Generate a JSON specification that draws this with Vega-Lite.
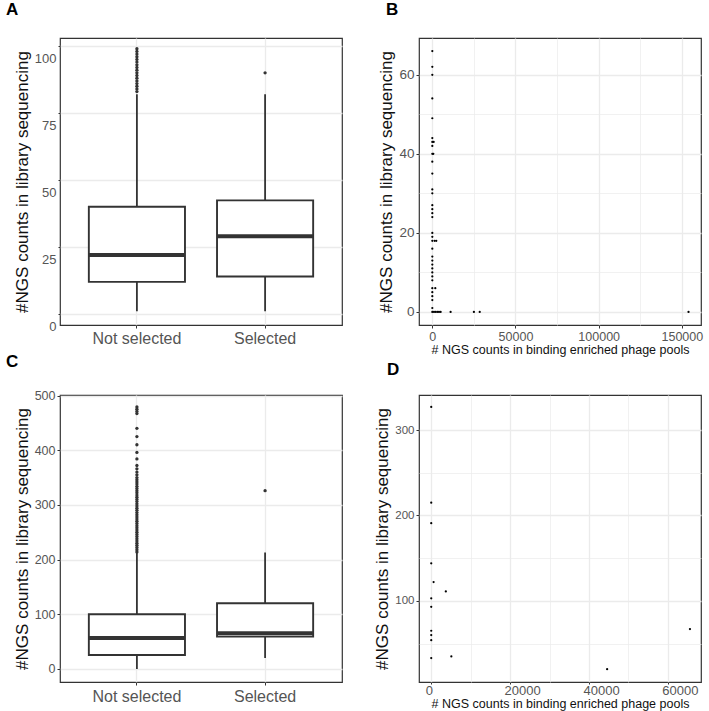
{
  "$schema": "https://vega.github.io/schema/vega-lite/v6.json",
  "padding": {"left": 5, "top": 0, "right": 5, "bottom": 0},
  "background": "white",
  "config": {
    "font": "Liberation Sans",
    "view": {"stroke": "#333333", "strokeWidth": 1.2},
    "axis": {"labelFont": "Liberation Sans", "titleFont": "Liberation Sans", "labelColor": "#555555", "titleColor": "#111111", "titleFontWeight": "normal", "domain": false, "gridColor": "#ebebeb", "tickColor": "#333333", "tickWidth": 1, "labelPadding": 2, "titlePadding": 3, "labelOverlap": false, "labelFlush": false},
    "title": {"font": "Liberation Sans", "fontSize": 17, "fontWeight": "bold", "color": "black", "anchor": "start", "frame": "group"}
  },
  "datasets": {
    "boxA": [
      {"group": "Not selected", "lower": 1, "q1": 12, "median": 22, "q3": 40, "upper": 82},
      {"group": "Selected", "lower": 1, "q1": 14, "median": 29, "q3": 42.4, "upper": 82}
    ],
    "outA": [
      {"group": "Not selected", "value": 83}, {"group": "Not selected", "value": 84}, {"group": "Not selected", "value": 85},
      {"group": "Not selected", "value": 86}, {"group": "Not selected", "value": 87}, {"group": "Not selected", "value": 88},
      {"group": "Not selected", "value": 89}, {"group": "Not selected", "value": 90}, {"group": "Not selected", "value": 91},
      {"group": "Not selected", "value": 92}, {"group": "Not selected", "value": 93}, {"group": "Not selected", "value": 94},
      {"group": "Not selected", "value": 95}, {"group": "Not selected", "value": 96}, {"group": "Not selected", "value": 97},
      {"group": "Not selected", "value": 98}, {"group": "Not selected", "value": 99},
      {"group": "Selected", "value": 90}
    ],
    "scatB": [
      {"x": 0, "y": 66}, {"x": 0, "y": 62}, {"x": 0, "y": 60}, {"x": 0, "y": 54}, {"x": 0, "y": 49},
      {"x": 0, "y": 44}, {"x": 0, "y": 43}, {"x": 800, "y": 43}, {"x": 0, "y": 42}, {"x": 0, "y": 40}, {"x": 600, "y": 40},
      {"x": 0, "y": 38}, {"x": 0, "y": 35}, {"x": 0, "y": 31}, {"x": 0, "y": 30}, {"x": 0, "y": 27},
      {"x": 0, "y": 26}, {"x": 0, "y": 25}, {"x": 0, "y": 24}, {"x": 0, "y": 20}, {"x": 0, "y": 19},
      {"x": 0, "y": 18}, {"x": 1400, "y": 18}, {"x": 2400, "y": 18}, {"x": 0, "y": 16}, {"x": 0, "y": 14},
      {"x": 0, "y": 13}, {"x": 0, "y": 12}, {"x": 0, "y": 11}, {"x": 0, "y": 10}, {"x": 0, "y": 9},
      {"x": 0, "y": 8}, {"x": 0, "y": 6}, {"x": 1800, "y": 6}, {"x": 0, "y": 5}, {"x": 0, "y": 4},
      {"x": 0, "y": 3}, {"x": 0, "y": 1}, {"x": 0, "y": 0}, {"x": 1000, "y": 0}, {"x": 2000, "y": 0},
      {"x": 3000, "y": 0}, {"x": 4000, "y": 0}, {"x": 5000, "y": 0}, {"x": 11000, "y": 0},
      {"x": 25000, "y": 0}, {"x": 28500, "y": 0}, {"x": 154000, "y": 0}
    ],
    "boxC": [
      {"group": "Not selected", "lower": 0, "q1": 25.5, "median": 56.5, "q3": 100, "upper": 212},
      {"group": "Selected", "lower": 20, "q1": 59, "median": 65, "q3": 120, "upper": 213}
    ],
    "outC": [
      {"group": "Not selected", "value": 214}, {"group": "Not selected", "value": 218}, {"group": "Not selected", "value": 222},
      {"group": "Not selected", "value": 226}, {"group": "Not selected", "value": 230}, {"group": "Not selected", "value": 234},
      {"group": "Not selected", "value": 238}, {"group": "Not selected", "value": 242}, {"group": "Not selected", "value": 246},
      {"group": "Not selected", "value": 250}, {"group": "Not selected", "value": 254}, {"group": "Not selected", "value": 258},
      {"group": "Not selected", "value": 262}, {"group": "Not selected", "value": 266}, {"group": "Not selected", "value": 270},
      {"group": "Not selected", "value": 274}, {"group": "Not selected", "value": 278}, {"group": "Not selected", "value": 282},
      {"group": "Not selected", "value": 286}, {"group": "Not selected", "value": 290}, {"group": "Not selected", "value": 294},
      {"group": "Not selected", "value": 298}, {"group": "Not selected", "value": 302}, {"group": "Not selected", "value": 306},
      {"group": "Not selected", "value": 310}, {"group": "Not selected", "value": 314}, {"group": "Not selected", "value": 318},
      {"group": "Not selected", "value": 322}, {"group": "Not selected", "value": 326}, {"group": "Not selected", "value": 330},
      {"group": "Not selected", "value": 334}, {"group": "Not selected", "value": 338}, {"group": "Not selected", "value": 342},
      {"group": "Not selected", "value": 346}, {"group": "Not selected", "value": 350}, {"group": "Not selected", "value": 355},
      {"group": "Not selected", "value": 360}, {"group": "Not selected", "value": 366}, {"group": "Not selected", "value": 372},
      {"group": "Not selected", "value": 384}, {"group": "Not selected", "value": 396}, {"group": "Not selected", "value": 410},
      {"group": "Not selected", "value": 425}, {"group": "Not selected", "value": 440}, {"group": "Not selected", "value": 467},
      {"group": "Not selected", "value": 471}, {"group": "Not selected", "value": 475}, {"group": "Not selected", "value": 479},
      {"group": "Selected", "value": 326}
    ],
    "scatD": [
      {"x": 0, "y": 327}, {"x": 0, "y": 215}, {"x": 0, "y": 191}, {"x": 0, "y": 144}, {"x": 600, "y": 122},
      {"x": 0, "y": 103}, {"x": 0, "y": 93}, {"x": 0, "y": 65}, {"x": 0, "y": 60}, {"x": 0, "y": 54},
      {"x": 0, "y": 33}, {"x": 3700, "y": 111}, {"x": 5100, "y": 35}, {"x": 44600, "y": 20}, {"x": 65600, "y": 67}
    ]
  },
  "columns": 2,
  "bounds": "flush",
  "spacing": {"row": 70, "column": 77},
  "concat": [
    {
      "width": 282, "height": 287,
      "title": {"text": "A", "dx": -54, "offset": 19},
      "layer": [
        {
          "data": {"name": "boxA"},
          "mark": {"type": "rule", "stroke": "#333333", "strokeWidth": 1.8},
          "encoding": {
            "x": {"field": "group", "type": "nominal", "scale": {"type": "band", "paddingInner": 0.25, "paddingOuter": 0.225},
                  "axis": {"title": null, "labelFontSize": 16, "labelAngle": 0, "tickSize": 3, "grid": true, "gridWidth": 1.3, "bandPosition": 0.5, "labelPadding": 2}},
            "y": {"field": "lower", "type": "quantitative", "scale": {"domain": [-4.1, 103], "nice": false, "zero": false},
                  "axis": {"title": "#NGS counts in library sequencing", "titleFontSize": 17, "labelFontSize": 13, "labelOffset": 12,
                           "values": [0, 12.5, 25, 37.5, 50, 62.5, 75, 87.5, 100],
                           "labelExpr": "datum.value % 25 === 0 ? datum.label : ''",
                           "gridWidth": {"condition": {"test": "datum.value % 25 === 0", "value": 1.3}, "value": 0.7},
                           "tickSize": {"condition": {"test": "datum.value % 25 === 0", "value": 2}, "value": 0}}},
            "y2": {"field": "upper"}
          }
        },
        {
          "data": {"name": "boxA"},
          "mark": {"type": "bar", "fill": "white", "stroke": "#333333", "strokeWidth": 1.9, "opacity": 1},
          "encoding": {
            "x": {"field": "group", "type": "nominal"},
            "y": {"field": "q1", "type": "quantitative"},
            "y2": {"field": "q3"}
          }
        },
        {
          "data": {"name": "boxA"},
          "mark": {"type": "tick", "color": "#333333", "thickness": 4, "size": 96, "opacity": 1},
          "encoding": {
            "x": {"field": "group", "type": "nominal"},
            "y": {"field": "median", "type": "quantitative"}
          }
        },
        {
          "data": {"name": "outA"},
          "mark": {"type": "circle", "color": "#333333", "size": 11, "opacity": 1},
          "encoding": {
            "x": {"field": "group", "type": "nominal"},
            "y": {"field": "value", "type": "quantitative"}
          }
        }
      ]
    },
    {
      "width": 282, "height": 287,
      "title": {"text": "B", "dx": -33, "offset": 19},
      "data": {"name": "scatB"},
      "mark": {"type": "circle", "color": "black", "size": 5, "opacity": 1},
      "encoding": {
        "x": {"field": "x", "type": "quantitative", "scale": {"domain": [-8000, 161500], "nice": false, "zero": false},
              "axis": {"title": "# NGS counts in binding enriched phage pools", "titleFontSize": 12.5, "titlePadding": 1, "labelFontSize": 12.5, "format": "d",
                       "values": [0, 25000, 50000, 75000, 100000, 125000, 150000],
                       "labelExpr": "datum.value % 50000 === 0 ? datum.label : ''",
                       "gridWidth": {"condition": {"test": "datum.value % 50000 === 0", "value": 1.3}, "value": 0.7},
                       "tickSize": {"condition": {"test": "datum.value % 50000 === 0", "value": 3}, "value": 0}}},
        "y": {"field": "y", "type": "quantitative", "scale": {"domain": [-3.3, 69.3], "nice": false, "zero": false},
              "axis": {"title": "#NGS counts in library sequencing", "titleFontSize": 17, "labelFontSize": 13.5,
                       "values": [0, 10, 20, 30, 40, 50, 60],
                       "labelExpr": "datum.value % 20 === 0 ? datum.label : ''",
                       "gridWidth": {"condition": {"test": "datum.value % 20 === 0", "value": 1.3}, "value": 0.7},
                       "tickSize": {"condition": {"test": "datum.value % 20 === 0", "value": 3}, "value": 0}}}
      }
    },
    {
      "width": 282, "height": 287,
      "title": {"text": "C", "dx": -54, "offset": 19},
      "layer": [
        {
          "data": {"name": "boxC"},
          "mark": {"type": "rule", "stroke": "#333333", "strokeWidth": 1.8},
          "encoding": {
            "x": {"field": "group", "type": "nominal", "scale": {"type": "band", "paddingInner": 0.25, "paddingOuter": 0.225},
                  "axis": {"title": null, "labelFontSize": 16, "labelAngle": 0, "tickSize": 3, "grid": true, "gridWidth": 1.3, "bandPosition": 0.5, "labelPadding": 3}},
            "y": {"field": "lower", "type": "quantitative", "scale": {"domain": [-24, 501], "nice": false, "zero": false},
                  "axis": {"title": "#NGS counts in library sequencing", "titleFontSize": 17, "labelFontSize": 12.5,
                           "values": [0, 50, 100, 150, 200, 250, 300, 350, 400, 450, 500],
                           "labelExpr": "datum.value % 100 === 0 ? datum.label : ''",
                           "gridWidth": {"condition": {"test": "datum.value % 100 === 0", "value": 1.3}, "value": 0.7},
                           "tickSize": {"condition": {"test": "datum.value % 100 === 0", "value": 3}, "value": 0}}},
            "y2": {"field": "upper"}
          }
        },
        {
          "data": {"name": "boxC"},
          "mark": {"type": "bar", "fill": "white", "stroke": "#333333", "strokeWidth": 1.9, "opacity": 1},
          "encoding": {
            "x": {"field": "group", "type": "nominal"},
            "y": {"field": "q1", "type": "quantitative"},
            "y2": {"field": "q3"}
          }
        },
        {
          "data": {"name": "boxC"},
          "mark": {"type": "tick", "color": "#333333", "thickness": 4, "size": 96, "opacity": 1},
          "encoding": {
            "x": {"field": "group", "type": "nominal"},
            "y": {"field": "median", "type": "quantitative"}
          }
        },
        {
          "data": {"name": "outC"},
          "mark": {"type": "circle", "color": "#333333", "size": 11, "opacity": 1},
          "encoding": {
            "x": {"field": "group", "type": "nominal"},
            "y": {"field": "value", "type": "quantitative"}
          }
        }
      ]
    },
    {
      "width": 282, "height": 287,
      "title": {"text": "D", "dx": -32, "offset": 16},
      "data": {"name": "scatD"},
      "mark": {"type": "circle", "color": "black", "size": 5, "opacity": 1},
      "encoding": {
        "x": {"field": "x", "type": "quantitative", "scale": {"domain": [-3100, 68400], "nice": false, "zero": false},
              "axis": {"title": "# NGS counts in binding enriched phage pools", "titleFontSize": 12.5, "titlePadding": 0, "labelFontSize": 13, "format": "d",
                       "labelAlign": "left", "labelOffset": -6, "labelPadding": 0,
                       "values": [0, 10000, 20000, 30000, 40000, 50000, 60000],
                       "labelExpr": "datum.value % 20000 === 0 ? datum.label : ''",
                       "gridWidth": {"condition": {"test": "datum.value % 20000 === 0", "value": 1.3}, "value": 0.7},
                       "tickSize": {"condition": {"test": "datum.value % 20000 === 0", "value": 2}, "value": 0}}},
        "y": {"field": "y", "type": "quantitative", "scale": {"domain": [5, 341], "nice": false, "zero": false},
              "axis": {"title": "#NGS counts in library sequencing", "titleFontSize": 17, "labelFontSize": 11.5,
                       "values": [50, 100, 150, 200, 250, 300],
                       "labelExpr": "datum.value % 100 === 0 ? datum.label : ''",
                       "gridWidth": {"condition": {"test": "datum.value % 100 === 0", "value": 1.3}, "value": 0.7},
                       "tickSize": {"condition": {"test": "datum.value % 100 === 0", "value": 3}, "value": 0}}}
      }
    }
  ]
}
